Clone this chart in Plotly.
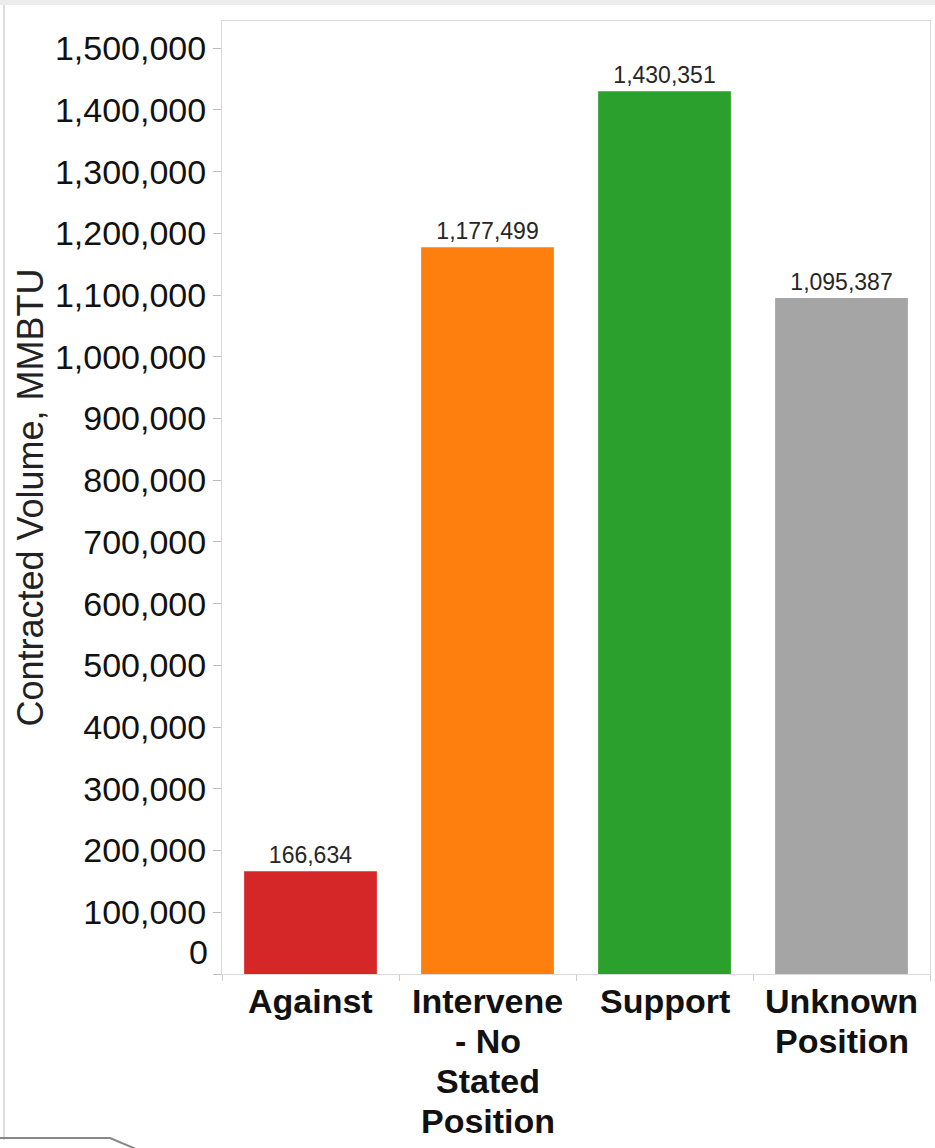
import plotly.graph_objects as go

categories = ["Against", "Intervene<br>- No<br>Stated<br>Position", "Support", "Unknown<br>Position"]
volumes = [166634, 1177499, 1430351, 1095387]
colors = ["#d62728", "#ff7f0e", "#2ca02c", "#a5a5a5"]
y_ticks = list(range(0, 1500001, 100000))

W, H = 935, 1148
L, R, T, B = 222, 5, 21, 174
pw, ph = W - L - R, H - T - B


def px_x(x):
    return (x - L) / pw


def px_y(y):
    return (H - B - y) / ph


font = "Arial, Liberation Sans, sans-serif"

fig = go.Figure(go.Bar(
    x=categories, y=volumes,
    marker=dict(color=colors, line=dict(width=0)),
    text=[f"{v:,}" for v in volumes],
    textposition="outside",
    textfont=dict(size=23, color="#262626", family=font),
    cliponaxis=False,
))

fig.update_layout(
    width=W, height=H,
    margin=dict(l=L, r=R, t=T, b=B),
    paper_bgcolor="white", plot_bgcolor="white",
    bargap=0.25,
    showlegend=False,
    font=dict(family=font, color="#111111"),
)

fig.update_yaxes(
    range=[0, 1544000],
    tickvals=y_ticks,
    ticktext=["" if v == 0 else f"{v:,}" for v in y_ticks],
    tickfont=dict(size=34, color="#111111"),
    ticks="outside", ticklen=8, tickcolor="#bbbbbb",
    showgrid=False, zeroline=False,
    showline=True, linecolor="#d9d9d9", mirror=True,
    title=dict(text="Contracted Volume, MMBTU", font=dict(size=36, color="#222222"), standoff=0),
)

fig.update_xaxes(
    showticklabels=False,
    ticks="outside", ticklen=6, tickcolor="#cccccc", tickson="boundaries",
    showgrid=False,
    showline=True, linecolor="#d9d9d9", mirror=True,
)

# category labels, one annotation per line to get the tight line spacing
for cat in categories:
    for i, line in enumerate(cat.split("<br>")):
        fig.add_annotation(x=cat, xref="x", y=0, yref="paper", text=f"<b>{line}</b>",
                           showarrow=False, yanchor="middle", yshift=-27 - 40 * i,
                           font=dict(size=34, color="#111111", family=font))

# the zero label sits a little above the baseline, as in the original
fig.add_annotation(x=0, xref="paper", y=0, yref="y", text="0", showarrow=False,
                   xanchor="right", xshift=-12, yshift=22,
                   font=dict(size=34, color="#111111", family=font))

# window frame remnants: gray top strip, left edge line, bottom-left tab
fig.add_shape(type="rect", xref="paper", yref="paper",
              x0=px_x(0), x1=px_x(W), y0=px_y(5), y1=px_y(0),
              fillcolor="#ececec", line=dict(width=0), layer="below")
fig.add_shape(type="line", xref="paper", yref="paper",
              x0=px_x(4), x1=px_x(4), y0=px_y(1140), y1=px_y(5),
              line=dict(color="#dddddd", width=2))
fig.add_shape(type="path", xref="paper", yref="paper",
              path=f"M {px_x(0)},{px_y(1138)} L {px_x(110)},{px_y(1138)} L {px_x(136)},{px_y(1149)}",
              line=dict(color="#888888", width=2))

fig.write_html("out.html", config={"displayModeBar": False},
               post_script="document.body.style.margin='0';")
